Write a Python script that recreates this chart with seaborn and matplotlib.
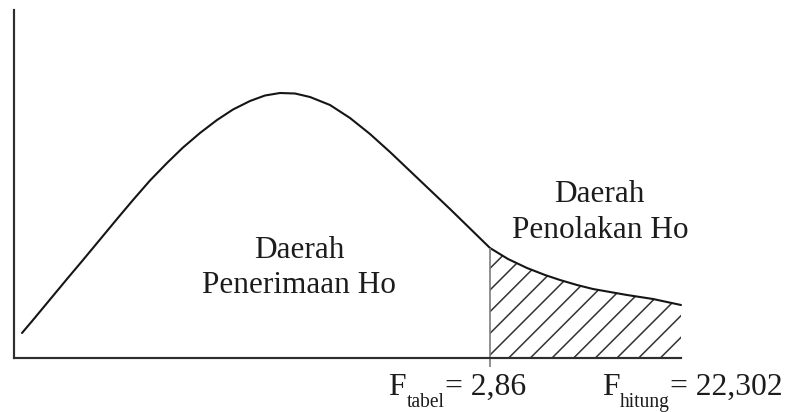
import matplotlib
matplotlib.use("Agg")
import matplotlib.pyplot as plt
import seaborn as sns

# Schematic F-distribution curve, sampled along the horizontal axis
curve_x = [8, 19, 36, 53, 69, 86, 103, 119, 136, 153, 169, 186, 203, 219, 236,
           251, 266, 281, 296, 316, 336, 356, 376, 396, 416, 436, 456, 476,
           494, 513, 531, 546, 563, 579, 596, 613, 639, 667]
curve_y = [25, 38, 58.5, 79, 98, 118.5, 139, 158, 177.5, 195, 210.5, 225, 238,
           248.5, 257, 262.5, 265, 264.5, 261, 253, 240, 224, 206, 187, 168,
           149, 129.5, 110, 99, 90, 83, 78, 73, 69, 66, 63, 59, 53]

# Index of the critical value (F tabel) within the sampled curve
tabel_index = 27

region_accept = ["Daerah", "Penerimaan Ho"]
region_reject = ["Daerah", "Penolakan Ho"]
stat_names = ["F", "F"]
stat_subs = ["tabel", "hitung"]
stat_values = ["= 2,86", "= 22,302"]

W, H, DPI = 785, 412, 130
sns.set_theme(style="white")
plt.rcParams["font.family"] = ["Liberation Serif", "DejaVu Serif"]
plt.rcParams["hatch.linewidth"] = 0.85

fig = plt.figure(figsize=(W / DPI, H / DPI), dpi=DPI)
fig.patch.set_facecolor("white")

# axes box: left axis at x=14 px, baseline at y=358 px, top at y=10 px
ax = fig.add_axes([14 / W, (H - 358) / H, (681 - 14) / W, (358 - 10) / H])
ax.set_facecolor("white")

sns.lineplot(x=curve_x, y=curve_y, ax=ax, color="#151515", linewidth=1.15,
             sort=False, clip_on=False, solid_joinstyle="round")

# hatched rejection region under the right tail
tail_x = curve_x[tabel_index:]
tail_y = curve_y[tabel_index:]
ax.fill_between(tail_x, 0, tail_y, facecolor="none", edgecolor="#333333",
                hatch="//", linewidth=0)

# boundary line at the critical value, reaching slightly below the axis
x_t = curve_x[tabel_index]
ax.plot([x_t, x_t], [-9, curve_y[tabel_index]], color="#7a7a7a",
        linewidth=0.9, clip_on=False, solid_capstyle="butt")

ax.set_xlim(0, curve_x[-1])
ax.set_ylim(0, 348)
for side in ["top", "right"]:
    ax.spines[side].set_visible(False)
for side in ["left", "bottom"]:
    ax.spines[side].set_color("#2e2e2e")
    ax.spines[side].set_linewidth(1.2)
ax.set_yticks([])
ax.set_xticks([curve_x[-1]])
ax.set_xticklabels([""])
ax.tick_params(axis="x", direction="in", length=2.2, width=0.9, color="#2e2e2e")


def px_text(x, y, s, size, **kw):
    fig.text(x / W, 1 - y / H, s, fontsize=size, color="#1c1c1c", **kw)


big = 17.3
px_text(299, 258.5, region_accept[0], big, ha="center", va="baseline")
px_text(298.5, 293, region_accept[1], big, ha="center", va="baseline")
px_text(599, 202, region_reject[0], big, ha="center", va="baseline")
px_text(600, 238, region_reject[1], big, ha="center", va="baseline")

# F tabel / F hitung labels with subscripts
name_x = [388, 602]
sub_x = [407, 620]
val_x = [445, 670]
for i in range(2):
    px_text(name_x[i], 395, stat_names[i], 17.5, ha="left", va="baseline")
    px_text(sub_x[i], 407, stat_subs[i], 10.8, ha="left", va="baseline")
    px_text(val_x[i], 395, stat_values[i], 17.5, ha="left", va="baseline")

fig.savefig("out.png", dpi=DPI, facecolor="white")
